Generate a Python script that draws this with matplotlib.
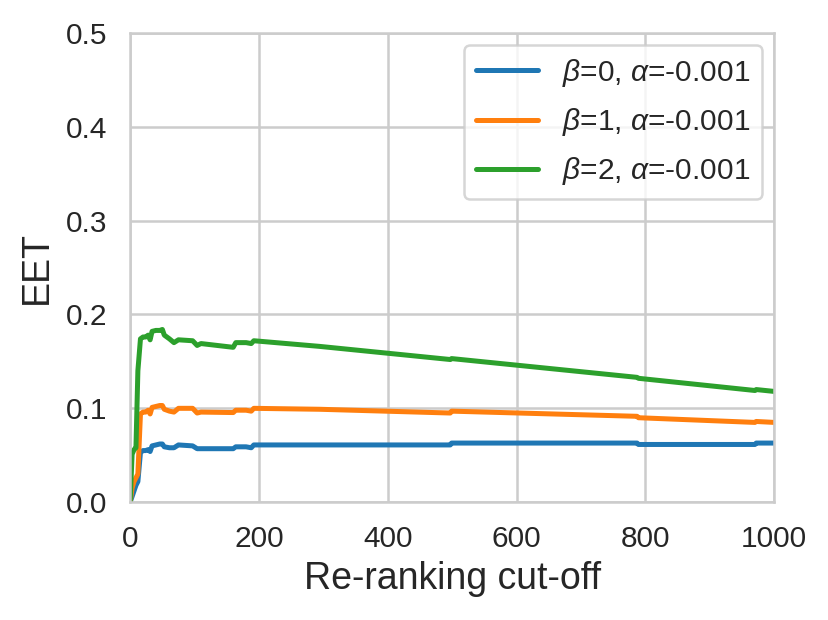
import matplotlib
matplotlib.use("Agg")
import matplotlib.pyplot as plt
import seaborn as sns

# re-ranking cut-off values (x) and EET for each beta
cutoff = [0, 3, 6, 9, 12, 16, 20, 24, 28, 31, 34, 40, 46, 50, 53, 61, 68, 75, 97, 104,
          110, 160, 164, 180, 188, 192, 294, 497, 499, 787, 789, 970, 972, 1000]
eet_b0 = [0.0, 0.006, 0.012, 0.018, 0.022, 0.053, 0.055, 0.055, 0.056, 0.054, 0.060, 0.061,
          0.062, 0.062, 0.059, 0.058, 0.058, 0.061, 0.060, 0.057, 0.057, 0.057, 0.059, 0.059,
          0.058, 0.061, 0.061, 0.061, 0.063, 0.063, 0.0615, 0.0615, 0.063, 0.063]
eet_b1 = [0.0, 0.015, 0.022, 0.026, 0.030, 0.094, 0.096, 0.096, 0.098, 0.094, 0.101, 0.102,
          0.103, 0.103, 0.099, 0.097, 0.096, 0.100, 0.100, 0.095, 0.096, 0.0955, 0.098, 0.098,
          0.097, 0.100, 0.099, 0.095, 0.097, 0.0915, 0.090, 0.085, 0.086, 0.085]
eet_b2 = [0.0, 0.051, 0.056, 0.058, 0.140, 0.174, 0.176, 0.176, 0.178, 0.173, 0.182, 0.183,
          0.183, 0.184, 0.178, 0.174, 0.170, 0.173, 0.172, 0.167, 0.169, 0.165, 0.170, 0.170,
          0.169, 0.172, 0.166, 0.152, 0.153, 0.133, 0.132, 0.119, 0.120, 0.118]
labels = [r"$\beta$=0, $\alpha$=-0.001", r"$\beta$=1, $\alpha$=-0.001", r"$\beta$=2, $\alpha$=-0.001"]

sns.set_style("whitegrid")
plt.rcParams['font.family'] = ['Liberation Sans', 'DejaVu Sans']
plt.rcParams['mathtext.fontset'] = 'custom'
plt.rcParams['mathtext.rm'] = 'Liberation Sans'
plt.rcParams['mathtext.it'] = 'Liberation Sans:italic'

fig = plt.figure(figsize=(8.29, 6.2), dpi=100)
ax = fig.add_axes([0.157, 0.190, 0.777, 0.757])
pal = sns.color_palette("tab10")
for i, ys in enumerate([eet_b0, eet_b1, eet_b2]):
    ax.plot(cutoff, ys, color=pal[i], lw=3.6, label=labels[i])

ax.set_xlim(0, 1000)
ax.set_ylim(0, 0.5)
ax.set_xticks([0, 200, 400, 600, 800, 1000])
ax.set_yticks([0.0, 0.1, 0.2, 0.3, 0.4, 0.5])
ax.tick_params(labelsize=21.5, colors='#262626', pad=13)
ax.grid(True, color='#cccccc', lw=1.8)
for s in ax.spines.values():
    s.set_color('#cccccc')
    s.set_linewidth(1.8)
ax.set_xlabel("Re-ranking cut-off", fontsize=27, color='#262626', labelpad=6)
ax.set_ylabel("EET", fontsize=27, color='#262626', labelpad=8)
leg = ax.legend(loc='upper right', fontsize=21.5, handlelength=2.1, borderaxespad=0.4,
                labelspacing=0.58)
leg.get_frame().set_edgecolor('#cccccc')
leg.get_frame().set_linewidth(1.8)

fig.savefig("out.png", dpi=100)
